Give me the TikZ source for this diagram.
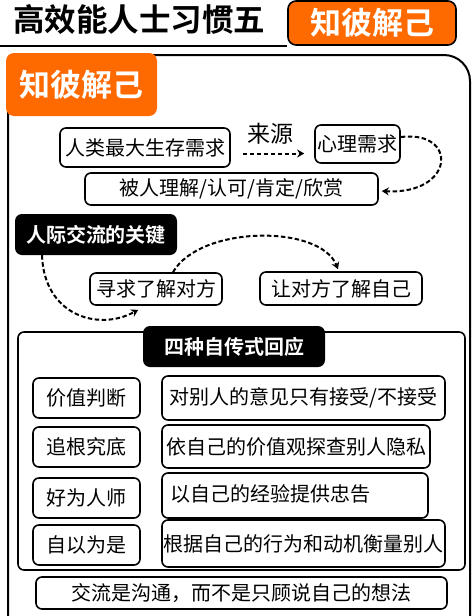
\documentclass[tikz,border=0pt]{standalone}
\usepackage{fontspec}
\setmainfont{Noto Sans CJK SC}[BoldFont={Noto Sans CJK SC Bold}]
\usetikzlibrary{arrows.meta}
\definecolor{tagorange}{RGB}{255,106,0}

\begin{document}
\begin{tikzpicture}[x=1pt, y=-1pt,
    every node/.style={font=\fontsize{20}{22}\selectfont, inner sep=0pt},
    box/.style={draw, line width=1.6pt, rounded corners=6pt},
    darktag/.style={fill=black, rounded corners=7pt, text=white,
      font=\fontsize{20}{22}\selectfont\bfseries},
    orangetag/.style={fill=tagorange, rounded corners=8pt, text=white,
      font=\fontsize{31}{33}\selectfont\bfseries},
    dasharrow/.style={line width=2pt, dash pattern=on 4.5pt off 2.5pt,
      -{Stealth[length=7pt,width=8pt]}}]
    \useasboundingbox (0,0) rectangle (476,616);
    \clip (0,0) rectangle (476,616);

    % --- header ----------------------------------------------------------
    \node[font=\fontsize{31.5}{33}\selectfont\bfseries] (title) at (139,19) {高效能人士习惯五};
    \node[orangetag, draw=black, line width=1.6pt,
          minimum width=168pt, minimum height=44pt] (toptag) at (372,23) {知彼解己};
    \coordinate (rule) at (0,46);
    \draw[line width=2pt] (rule) -- (rule -| toptag.west);

    % --- frame and tag ----------------------------------------------------
    \draw[line width=2pt, rounded corners=26pt] (8,650) -- (8,55) -- (470,55) -- (470,650);
    \node[orangetag, minimum width=151pt, minimum height=63pt] (tag) at (81.5,84.5) {知彼解己};

    % --- needs ------------------------------------------------------------
    \node[box, minimum width=170pt, minimum height=39pt] (need) at (145,147.5) {人类最大生存需求};
    \node[box, minimum width=85pt, minimum height=38pt] (psych) at (357.5,144) {心理需求};
    \node[box, minimum width=293pt, minimum height=32pt] (appr) at (231.5,189) {被人理解/认可/肯定/欣赏};
    \node[font=\fontsize{23}{25}\selectfont] (src) at (270,134) {来源};
    \draw[dasharrow] ([xshift=12pt,yshift=-6pt]need.east) -- ([xshift=-10pt,yshift=-6pt]need.east -| psych.west);
    \draw[dasharrow] ([yshift=7pt]psych.east) .. controls +(58,-7) and +(73,4) .. ([xshift=3pt,yshift=-2pt]appr.east);

    % --- key of communication --------------------------------------------
    \node[darktag, minimum width=162pt, minimum height=41pt] (key) at (96,234.5) {人际交流的关键};
    \node[box, minimum width=132pt, minimum height=32pt] (seek) at (156,289) {寻求了解对方};
    \node[box, minimum width=162pt, minimum height=33pt] (let) at (341,288.5) {让对方了解自己};
    \draw[dasharrow] ([xshift=-54pt]key.south) .. controls +(2,60) and +(-40,22) .. ([xshift=49pt,yshift=-4pt]seek.south west);
    \draw[dasharrow] ([xshift=17pt]seek.north) .. controls +(27,-47) and +(-18,-45) .. ([xshift=-3pt,yshift=2pt]let.north);

    % --- four autobiographical responses ---------------------------------
    \node[box, minimum width=447pt, minimum height=238pt] (group) at (241.5,451) {};
    \node[darktag, minimum width=182pt, minimum height=41pt] (resp) at (234,346.5) {四种自传式回应};

    \node[box, minimum width=107pt, minimum height=40pt] (judge) at (86.5,398) {价值判断};
    \node[box, minimum width=107pt, minimum height=40pt] (probe) at (86.5,447) {追根究底};
    \node[box, minimum width=107pt, minimum height=40pt] (advise) at (86.5,498) {好为人师};
    \node[box, minimum width=107pt, minimum height=40pt] (interp) at (86.5,545) {自以为是};

    \node[box, minimum width=283pt, minimum height=44pt] (judgetxt) at (303.5,398) {对别人的意见只有接受/不接受};
    \node[box, minimum width=268pt, minimum height=43pt] (probetxt) at (296,446.5) {依自己的价值观探查别人隐私};
    \node[box, minimum height=45pt, text width=250pt, inner xsep=8pt, align=left] (advisetxt) at (295,495.5) {以自己的经验提供忠告\vspace{3pt}};
    \node[box, minimum width=283pt, minimum height=47pt] (interptxt) at (303.5,543.5) {根据自己的行为和动机衡量别人};

    % --- closing line -----------------------------------------------------
    \node[box, minimum width=411pt, minimum height=32pt] (sum) at (241.5,593) {交流是沟通，而不是只顾说自己的想法};
\end{tikzpicture}
\end{document}
